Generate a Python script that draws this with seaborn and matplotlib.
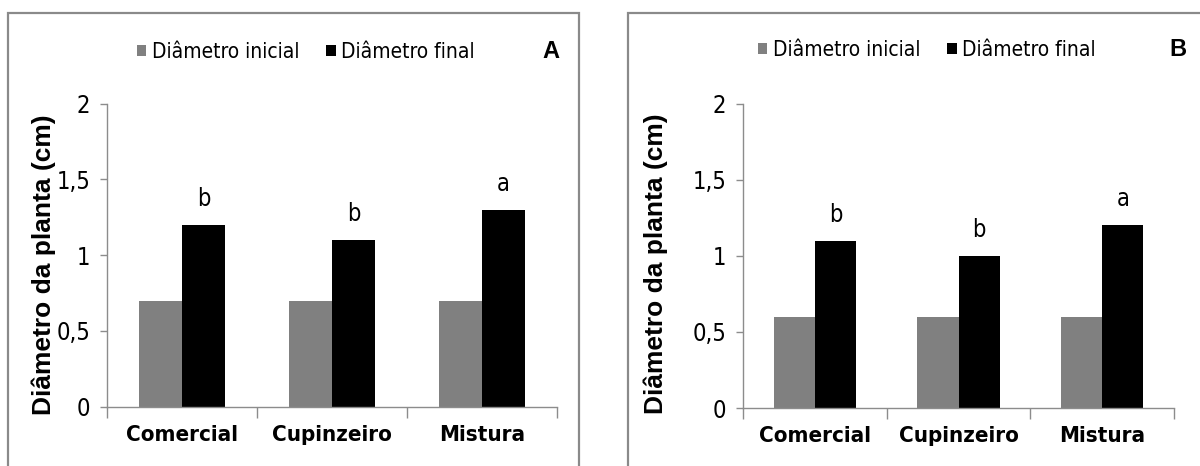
import matplotlib
matplotlib.use("Agg")
import matplotlib.pyplot as plt
from matplotlib.patches import Rectangle
from matplotlib.ticker import FixedLocator
from matplotlib.font_manager import FontProperties
import seaborn as sns
import pandas as pd

# Dados
categorias = ["Comercial", "Cupinzeiro", "Mistura"]
series = ["Diâmetro inicial", "Diâmetro final"]
a_inicial = [0.7, 0.7, 0.7]
a_final = [1.2, 1.1, 1.3]
b_inicial = [0.6, 0.6, 0.6]
b_final = [1.1, 1.0, 1.2]
letras_a = ["b", "b", "a"]
letras_b = ["b", "b", "a"]
yticks = [0, 0.5, 1, 1.5, 2]
ytick_labels = ["0", "0,5", "1", "1,5", "2"]
rotulo_y = "Diâmetro da planta (cm)"

sns.set_theme(style="white")
plt.rcParams["font.family"] = ["DejaVu Sans"]
plt.rcParams["text.color"] = "black"
plt.rcParams["xtick.labelcolor"] = "black"
plt.rcParams["ytick.labelcolor"] = "black"


def estreita(size, weight="normal"):
    return FontProperties(family="DejaVu Sans", stretch="condensed",
                          size=size, weight=weight)


def arial(size):
    return FontProperties(family="Liberation Sans", stretch="normal",
                          size=size, weight="bold")


W, H = 1200, 466
fig = plt.figure(figsize=(W / 100, H / 100), dpi=100)
fig.patch.set_facecolor("white")


def px(x0, y0, w, h):
    """pixel box (top-left origin) -> figure fraction rect"""
    return [x0 / W, 1 - (y0 + h) / H, w / W, h / H]


def painel(rect, inicial, final, letras, letra_painel, letra_xy, leg_xy, ylab_xy):
    ax = fig.add_axes(rect)
    df = pd.DataFrame({
        "cat": categorias * 2,
        "serie": [series[0]] * 3 + [series[1]] * 3,
        "valor": list(inicial) + list(final),
    })
    sns.barplot(data=df, x="cat", y="valor", hue="serie", hue_order=series,
                palette=["#808080", "#000000"], width=0.575, gap=0,
                saturation=1, ax=ax, legend=True, linewidth=0)
    ax.set_xlim(-0.5, 2.5)
    ax.set_ylim(0, 2)
    ax.set_yticks(yticks)
    ax.set_yticklabels(ytick_labels, fontproperties=estreita(17))
    for sp in ["top", "right"]:
        ax.spines[sp].set_visible(False)
    for sp in ["left", "bottom"]:
        ax.spines[sp].set_color("#8c8c8c")
        ax.spines[sp].set_linewidth(1.0)
    ax.tick_params(axis="y", direction="out", length=5, width=1.0,
                   color="#8c8c8c", labelcolor="black", pad=7, left=True)
    ax.xaxis.set_minor_locator(FixedLocator([-0.5, 0.5, 1.5, 2.5]))
    ax.tick_params(axis="x", which="major", length=0, pad=13,
                   labelcolor="black")
    ax.tick_params(axis="x", which="minor", direction="out", length=8,
                   width=1.0, color="#8c8c8c", bottom=True)
    for t in ax.get_xticklabels():
        t.set_fontproperties(estreita(16, "bold"))
    ax.set_xlabel("")
    ax.set_ylabel("")
    # letras de significância sobre as barras do diâmetro final
    for i, (v, l) in enumerate(zip(final, letras)):
        ax.annotate(l, xy=(i + 0.575 / 4, v), xytext=(0, 10),
                    textcoords="offset points", ha="center", va="bottom",
                    color="black", fontproperties=estreita(17))
    # legenda
    handles, labels = ax.get_legend_handles_labels()
    leg = ax.legend(handles, labels, loc="center left",
                    bbox_to_anchor=(leg_xy[0] / W, 1 - leg_xy[1] / H),
                    bbox_transform=fig.transFigure, ncol=2, frameon=False,
                    prop=estreita(15),
                    handlelength=0.45, handleheight=0.45,
                    handletextpad=0.25, columnspacing=1.3, borderpad=0,
                    borderaxespad=0)
    for t in leg.get_texts():
        t.set_color("black")
    fig.text(letra_xy[0] / W, 1 - letra_xy[1] / H, letra_painel,
             fontproperties=arial(17), color="black",
             ha="center", va="center")
    fig.text(ylab_xy[0] / W, 1 - ylab_xy[1] / H, rotulo_y, rotation=90,
             fontproperties=arial(19), color="black",
             ha="center", va="center")
    return ax


# molduras dos painéis
for x0, x1 in [(8, 579), (628, 1300)]:
    fig.patches.append(Rectangle((x0 / W, -0.1), (x1 - x0) / W,
                                 1.1 - 13 / H, transform=fig.transFigure,
                                 fill=False, edgecolor="#8a8a8a",
                                 linewidth=1.6))

painel(px(107, 103.5, 450, 303.2), a_inicial, a_final, letras_a, "A",
       (551, 52), (137, 52), (44, 265))
painel(px(743, 103.5, 431, 304.5), b_inicial, b_final, letras_b, "B",
       (1178, 50), (758, 50), (656, 264))

fig.savefig("out.png", dpi=100, facecolor="white")
